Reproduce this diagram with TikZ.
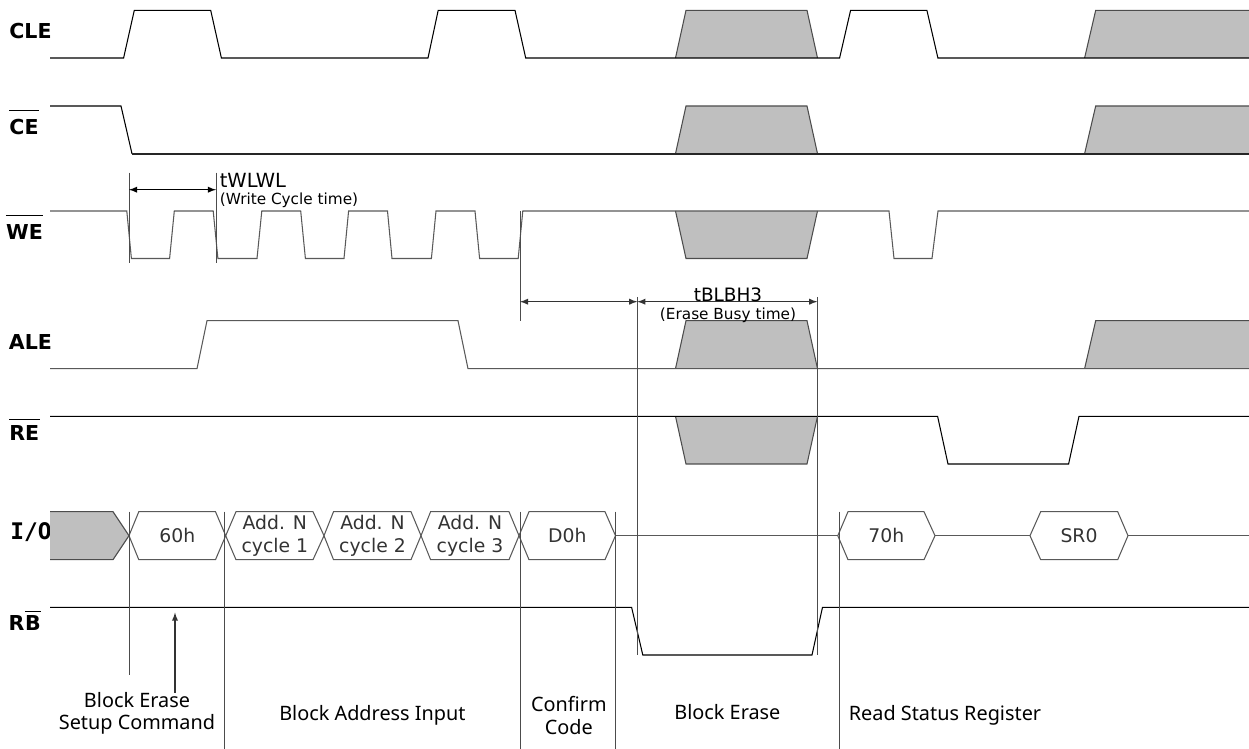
\documentclass[tikz,border=0pt]{standalone}
\usepackage{fontspec}
\setmainfont{DejaVu Sans}
\newfontfamily\notefont{Noto Sans}
\newfontfamily\iofont{DejaVu Sans Mono}
\begin{document}
\begin{tikzpicture}[x=0.02cm,y=-0.02cm,>=latex,
  sigline/.style={line width=0.6pt},
  greyline/.style={line width=0.6pt,draw=black!65},
  thinline/.style={line width=0.4pt,draw=black!70},
  darkstyle/.style={line width=0.6pt,draw=black!70,fill=black!25},
  namestyle/.style={font=\bfseries\fontsize{11.7}{14}\selectfont,inner xsep=0pt,inner ysep=0pt},
  hexstyle/.style={font=\fontsize{10.7}{12.9}\selectfont,align=center,text=black!80,inner sep=0pt},
  notestyle/.style={font=\notefont\fontsize{11.3}{12.7}\selectfont,align=center,inner sep=0pt}]
  \useasboundingbox (0,0) rectangle (1249,749);

  \foreach \n/\x/\y/\s in {CLE/30.5/31/0pt,CE/24/127/4.8pt,WE/24.6/232/5.1pt,ALE/30.5/342/0pt,RE/24.3/433/3.4pt}
    \node [namestyle,inner ysep=\s] (\n) at (\x,\y) {\n};
  \foreach \n in {CE,WE,RE}
    \draw [sigline] (\n.north west) -- (\n.north east);
  \node [namestyle,font=\iofont\bfseries\fontsize{13}{14}\selectfont,anchor=west] (IO) at (10,532) {I/O};
  \node [namestyle,inner ysep=2pt] (Rb) at (16.5,623) {R};
  \node [namestyle,inner ysep=2pt,anchor=west] (Bb) at (Rb.east) {B};
  \draw [sigline] (Bb.north west) -- (Bb.north east);

  \foreach \lo/\hi in {58/10.3,153.7/106,368.7/320.7}
    {\draw [darkstyle] (675.5,\lo) -- (686,\hi) -- (807,\hi) -- (817.5,\lo);
     \draw [darkstyle] (1084.6,\lo) -- (1095.7,\hi) -- (1251,\hi) -- (1251,\lo);}
  \foreach \lo/\hi in {211/258.5,416.3/464}
     \draw [darkstyle] (675.5,\lo) -- (686,\hi) -- (807,\hi) -- (817.5,\lo);
  \draw [darkstyle] (50,511.7) -- (113,511.7) -- (129,535.7) -- (113,559.7) -- (50,559.7);

  \draw [sigline] (50,58) -- (123.6,58) -- (134.3,10.3) -- (210.7,10.3) -- (221.4,58)
     -- (428,58) -- (438.2,10.3) -- (515,10.3) -- (525.7,58) -- (839.6,58)
     -- (850.6,10.3) -- (926.9,10.3) -- (937.9,58) -- (1249,58);
  \draw [sigline] (50,106) -- (121,106) -- (132,153.7);
  \draw [line width=1pt,black!85] (132,153.7) -- (1249,153.7);
  \draw [greyline] (50,211) -- (126.8,211) -- (131.4,258.5) -- (169.6,258.5) -- (174.3,211)
     -- (213.2,211) -- (217.9,258.5) -- (257,258.5) -- (261.8,211)
     -- (300.7,211) -- (305.4,258.5) -- (344,258.5) -- (348.6,211)
     -- (387.5,211) -- (392,258.5) -- (431.4,258.5) -- (436,211)
     -- (475,211) -- (479.6,258.5) -- (518.2,258.5) -- (522.8,211)
     -- (889,211) -- (894,258.5) -- (932,258.5) -- (938,211) -- (1249,211);
  \draw [greyline] (50,368.7) -- (197,368.7) -- (207,320.7) -- (458,320.7) -- (468,368.7) -- (1249,368.7);
  \draw [sigline] (50,416.3) -- (937.6,416.3) -- (948,464) -- (1068.6,464) -- (1079,416.3) -- (1249,416.3);
  \draw [sigline] (50,607.3) -- (631.6,607.3) -- (642.8,655) -- (812,655) -- (822.5,607.3) -- (1249,607.3);

  \foreach \a/\b/\c/\d/\t in {129/138.8/215.5/225.7/60h,
      225.7/236/313/324/{Add. N\\cycle 1},324/333.5/411/421/{Add. N\\cycle 2},
      421/430.6/509/519/{Add. N\\cycle 3},519/529/605/615.5/D0h,
      837.8/848/924/935/70h,1030/1040.7/1117.7/1128/SR0}
    {\draw [greyline] (\a,535.7) -- (\b,511.7) -- (\c,511.7) -- (\d,535.7) -- (\c,559.7) -- (\b,559.7) -- cycle;
     \node [hexstyle] at ({(\a+\d)/2},535.5) {\t};}
  \draw [greyline] (615.5,535.7) -- (837.8,535.7)
                   (935,535.7) -- (1030,535.7)
                   (1128,535.7) -- (1249,535.7);

  \foreach \x in {224,520,615.5,839}
    \draw [thinline] (\x,511.7) -- (\x,749);
  \draw [thinline] (129,511.7) -- (129,675);

  \coordinate (wa) at (129,189.7);
  \coordinate (wb) at (216,189.7);
  \coordinate (ba) at (520,301.7);
  \coordinate (bb) at (637.3,301.7);
  \coordinate (bc) at (817.3,301.7);
  \draw [thinline] (129,172.7) -- (129,263.3)
                   (216,172.7) -- (216,263.3)
                   (520,211) -- (520,320.7)
                   (637.3,297) -- (637.3,655)
                   (817.3,297) -- (817.3,655);
  \draw [<->,sigline] (wa) -- (wb);
  \draw [<->,sigline,black!80] (ba) -- (bb);
  \draw [<->,sigline,black!80] (bb) -- (bc);

  \node [font=\fontsize{11.1}{13}\selectfont,inner sep=0pt,anchor=west] (twlwl) at (219.5,180) {tWLWL};
  \node [font=\fontsize{8.7}{10}\selectfont,inner sep=0pt,anchor=west] (wct) at (219.5,200) {(Write Cycle time)};
  \node [font=\fontsize{10.5}{13}\selectfont,inner sep=0pt] (tblbh) at (728,295) {tBLBH3};
  \node [font=\fontsize{8.7}{10}\selectfont,inner sep=0pt] (ebt) at (728,315) {(Erase Busy time)};

  \node [notestyle] (setup) at (137,713) {Block Erase\\Setup Command};
  \node [notestyle] (addr) at (372.4,715.7) {Block Address Input};
  \node [notestyle] (conf) at (568.8,715.5) {Confirm\\Code};
  \node [notestyle] (erase) at (727.4,711.7) {Block Erase};
  \node [notestyle] (stat) at (945,715.7) {Read Status Register};
  \coordinate (cmd) at (175,612.6);
  \draw [->,sigline,black!80] (175,693) -- (cmd);
\end{tikzpicture}
\end{document}
